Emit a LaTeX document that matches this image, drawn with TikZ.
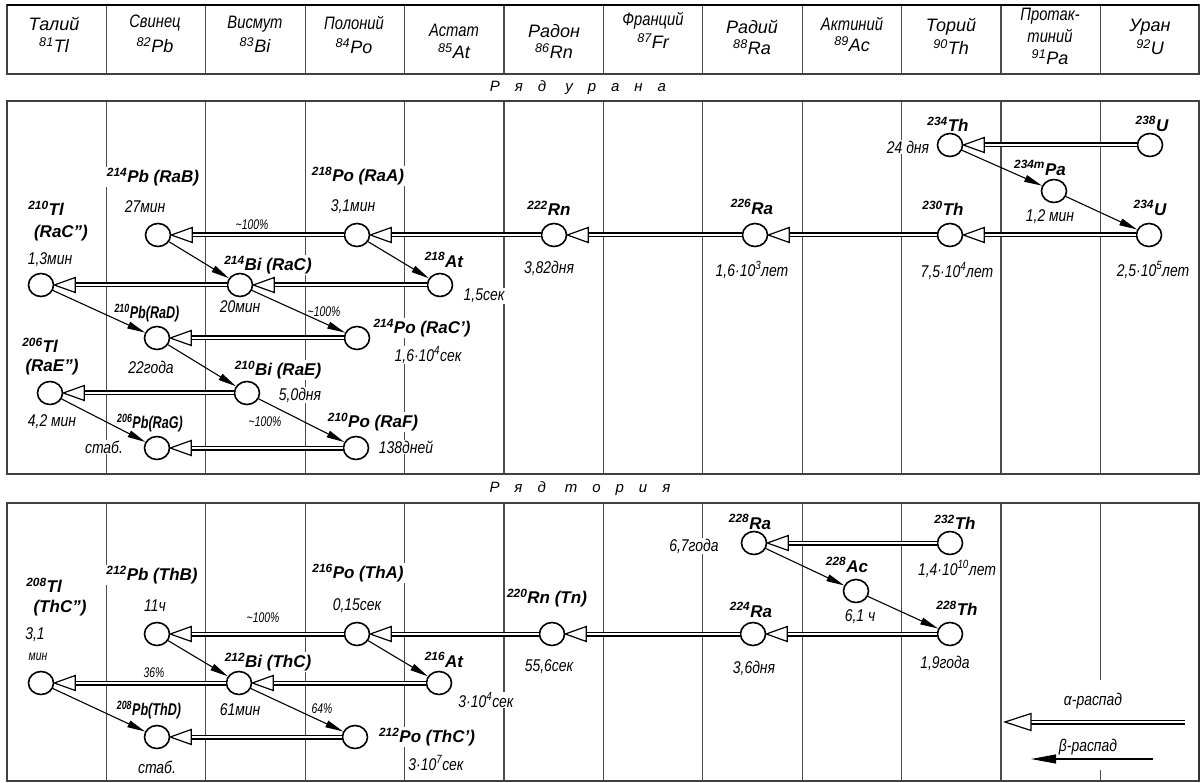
\documentclass[tikz,border=0pt]{standalone}
\usepackage{fontspec}
\setmainfont{Liberation Sans}
\newfontfamily\cnd[FakeStretch=0.82]{Liberation Sans}
\newfontfamily\cnn[FakeStretch=0.74]{Liberation Sans}
\usetikzlibrary{arrows.meta,shapes.geometric}
\tikzset{
 frm/.style={line width=1.8pt, draw=black!75},
 col/.style={line width=1.1pt, draw=black!70},
 hd/.style={font=\fontsize{18}{19}\selectfont\itshape, inner sep=0, align=center},
 hdc/.style={font=\cnd\fontsize{18}{19}\selectfont\itshape, inner sep=0, align=center},
 iso/.style={font=\fontsize{17}{18}\selectfont\bfseries\itshape, fill=white, inner sep=1pt},
 isoc/.style={font=\cnn\fontsize{17}{18}\selectfont\bfseries\itshape, fill=white, inner sep=1pt},
 hl/.style={font=\cnd\fontsize{17}{18}\selectfont\itshape, fill=white, inner sep=1pt},
 pct/.style={font=\cnn\fontsize{14}{15}\selectfont\itshape, inner sep=0.5pt},
 nuc/.style={ellipse, draw, line width=1.6pt, fill=white, minimum width=25pt, minimum height=23pt, inner sep=0},
 ashaft/.style={line width=1.2pt, double=white, double distance=2.6pt},
 ahead/.style={line width=1.2pt, fill=white, line join=miter},
 bshaft/.style={line width=1.1pt, -{Triangle[length=18pt,width=7pt]}},
 ser/.style={font=\addfontfeature{LetterSpace=100}\fontsize{15}{16}\selectfont\itshape, inner sep=0}
}
\newcommand{\adec}[2]{%
 \draw[ashaft] (#1.west) -- ([xshift=21pt]#2.east);
 \draw[ahead] (#2.east) -- ([xshift=21pt,yshift=7.5pt]#2.east) -- ([xshift=21pt,yshift=-7.5pt]#2.east) -- cycle;}
\begin{document}
\begin{tikzpicture}[x=1pt,y=-1pt]
\useasboundingbox (0,0) rectangle (1202,783);
% ---------- header ----------
\foreach \i in {1,...,11} \draw[col] ({7+99.4*\i},5) -- ({7+99.4*\i},74);
\draw[frm] (7,5) rectangle (1199,74);
\draw[line width=2.6pt] (7,5) -- (1199,5);
\node[hd]  (h1)  at (54,24)  {Талий};   \node[hd] (s1) at (54,45) {\textsuperscript{81}Tl};
\node[hdc] (h2)  at (155,23) {Свинец};  \node[hd] (s2) at (155,45) {\textsuperscript{82}Pb};
\node[hdc] (h3)  at (255,24) {Висмут};  \node[hd] (s3) at (255,45) {\textsuperscript{83}Bi};
\node[hdc] (h4)  at (354,23) {Полоний}; \node[hd] (s4) at (354,46) {\textsuperscript{84}Po};
\node[hdc] (h5)  at (454,30) {Астат};   \node[hd] (s5) at (454,51) {\textsuperscript{85}At};
\node[hd]  (h6)  at (554,31) {Радон};   \node[hd] (s6) at (554,51) {\textsuperscript{86}Rn};
\node[hdc] (h7)  at (653,21) {Франций}; \node[hd] (s7) at (653,41) {\textsuperscript{87}Fr};
\node[hd]  (h8)  at (752,27) {Радий};   \node[hd] (s8) at (752,47) {\textsuperscript{88}Ra};
\node[hdc] (h9)  at (852,24) {Актиний}; \node[hd] (s9) at (852,44) {\textsuperscript{89}Ac};
\node[hd]  (h10) at (951,27) {Торий};   \node[hd] (s10) at (951,47) {\textsuperscript{90}Th};
\node[hdc] (h11) at (1050,16) {Протак-}; \node[hdc] (h11b) at (1050,36) {тиний};
\node[hd]  (s11) at (1050,57) {\textsuperscript{91}Pa};
\node[hd]  (h12) at (1150,27) {Уран};   \node[hd] (s12) at (1150,47) {\textsuperscript{92}U};
\node[ser] (t1) at (578,88) {Ряд урана};
\node[ser] (t2) at (580,489) {Ряд тория};
% ---------- section frames and columns ----------
\foreach \i in {1,...,11} \draw[col] ({7+99.4*\i},101) -- ({7+99.4*\i},474);
\foreach \i in {1,...,10} \draw[col] ({7+99.4*\i},503) -- ({7+99.4*\i},781);
\draw[col] (1100.4,503) -- (1100.4,680);
\draw[col] (1100.4,770) -- (1100.4,781);
\draw[frm] (7,101) rectangle (1199,474);
\draw[frm] (7,503) rectangle (1199,781);
\draw[line width=2.6pt, draw=black!80] (1199,503) -- (1199,781);
% ---------- uranium series labels ----------
\node[iso] (l1) at (1152,124) {\textsuperscript{238}U};
\node[iso] (l2) at (948,124) {\textsuperscript{234}Th};
\node[hl]  (l3) at (908,147) {24 дня};
\node[iso] (l4) at (1040,168) {\textsuperscript{234m}Pa};
\node[hl]  (l5) at (1050,217) {1,2 мин};
\node[iso] (l6) at (1150,208) {\textsuperscript{234}U};
\node[hl]  (l7) at (1153,270) {2,5·10\textsuperscript{5}лет};
\node[iso] (l8) at (943,208) {\textsuperscript{230}Th};
\node[hl]  (l9) at (957,271) {7,5·10\textsuperscript{4}лет};
\node[iso] (l10) at (752,207) {\textsuperscript{226}Ra};
\node[hl]  (l11) at (752,270) {1,6·10\textsuperscript{3}лет};
\node[iso] (l12) at (549,208) {\textsuperscript{222}Rn};
\node[hl]  (l13) at (549,268) {3,82дня};
\node[iso] (l14) at (358,176) {\textsuperscript{218}Po (RaA)};
\node[hl]  (l15) at (353,207) {3,1мин};
\node[iso] (l16) at (153,177) {\textsuperscript{214}Pb (RaB)};
\node[hl]  (l17) at (145,207) {27мин};
\node[pct] (l18) at (252,225) {\textasciitilde100\%};
\node[iso] (l19) at (46,208) {\textsuperscript{210}Tl};
\node[iso] (l20) at (61,233) {(RaC'')};
\node[hl]  (l21) at (50,260) {1,3мин};
\node[iso] (l22) at (268,265) {\textsuperscript{214}Bi (RaC)};
\node[iso] (l23) at (444,260) {\textsuperscript{218}At};
\node[hl]  (l24) at (484,296) {1,5сек};
\node[hl]  (l25) at (240,307) {20мин};
\node[pct] (l26) at (324,312) {\textasciitilde100\%};
\node[isoc] (l27) at (147,313) {\textsuperscript{210}Pb(RaD)};
\node[iso] (l28) at (422,328) {\textsuperscript{214}Po (RaC')};
\node[hl]  (l29) at (428,355) {1,6·10\textsuperscript{4}сек};
\node[iso] (l30) at (40,345) {\textsuperscript{206}Tl};
\node[iso] (l31) at (52,367) {(RaE'')};
\node[hl]  (l32) at (151,367) {22года};
\node[iso] (l33) at (278,370) {\textsuperscript{210}Bi (RaE)};
\node[hl]  (l34) at (300,395) {5,0дня};
\node[hl]  (l35) at (52,422) {4,2 мин};
\node[pct] (l36) at (265,422) {\textasciitilde100\%};
\node[isoc] (l37) at (150,423) {\textsuperscript{206}Pb(RaG)};
\node[iso] (l38) at (373,422) {\textsuperscript{210}Po (RaF)};
\node[hl]  (l39) at (104,447) {стаб.};
\node[hl]  (l40) at (406,447) {138дней};
% ---------- thorium series labels ----------
\node[iso] (m1) at (955,522) {\textsuperscript{232}Th};
\node[hl]  (m2) at (957,569) {1,4·10\textsuperscript{10}лет};
\node[iso] (m3) at (750,522) {\textsuperscript{228}Ra};
\node[hl]  (m4) at (694,546) {6,7года};
\node[iso] (m5) at (847,565) {\textsuperscript{228}Ac};
\node[hl]  (m6) at (860,617) {6,1 ч};
\node[iso] (m7) at (957,608) {\textsuperscript{228}Th};
\node[hl]  (m8) at (945,663) {1,9года};
\node[iso] (m9) at (751,610) {\textsuperscript{224}Ra};
\node[hl]  (m10) at (754,668) {3,6дня};
\node[iso] (m11) at (547,598) {\textsuperscript{220}Rn (Tn)};
\node[hl]  (m12) at (549,667) {55,6сек};
\node[iso] (m13) at (358,573) {\textsuperscript{216}Po (ThA)};
\node[hl]  (m14) at (357,606) {0,15сек};
\node[iso] (m15) at (152,575) {\textsuperscript{212}Pb (ThB)};
\node[hl]  (m16) at (155,606) {11ч};
\node[pct] (m17) at (263,618) {\textasciitilde100\%};
\node[iso] (m18) at (44,585) {\textsuperscript{208}Tl};
\node[iso] (m19) at (60,608) {(ThC'')};
\node[hl]  (m20) at (35,635) {3,1};
\node[pct] (m21) at (38,657) {мин};
\node[iso] (m22) at (268,662) {\textsuperscript{212}Bi (ThC)};
\node[iso] (m23) at (444,660) {\textsuperscript{216}At};
\node[pct] (m24) at (154,673) {36\%};
\node[hl]  (m25) at (486,700) {3·10\textsuperscript{4}сек};
\node[isoc] (m26) at (149,710) {\textsuperscript{208}Pb(ThD)};
\node[hl]  (m27) at (240,710) {61мин};
\node[pct] (m28) at (322,709) {64\%};
\node[iso] (m29) at (427,737) {\textsuperscript{212}Po (ThC')};
\node[hl]  (m30) at (157,767) {стаб.};
\node[hl]  (m31) at (436,763) {3·10\textsuperscript{7}сек};
\node[hl]  (lg1) at (1093,701) {α-распад};
\node[hl]  (lg2) at (1088,747) {β-распад};
% ---------- nuclides ----------
\node[nuc] (U238)  at (1150,145) {};
\node[nuc] (Th234) at (950,145) {};
\node[nuc] (Pa234) at (1054,191) {};
\node[nuc] (U234)  at (1149,235) {};
\node[nuc] (Th230) at (950,235) {};
\node[nuc] (Ra226) at (755,235) {};
\node[nuc] (Rn222) at (554,235) {};
\node[nuc] (Po218) at (357,235) {};
\node[nuc] (Pb214) at (158,235) {};
\node[nuc] (At218) at (440,285) {};
\node[nuc] (Bi214) at (240,285) {};
\node[nuc] (Tl210) at (41,285) {};
\node[nuc] (Pb210) at (157,338) {};
\node[nuc] (Po214) at (357,338) {};
\node[nuc] (Bi210) at (247,393) {};
\node[nuc] (Tl206) at (50,393) {};
\node[nuc] (Pb206) at (157,448) {};
\node[nuc] (Po210) at (356,448) {};
\node[nuc] (Th232) at (950,543) {};
\node[nuc] (Ra228) at (754,543) {};
\node[nuc] (Ac228) at (856,591) {};
\node[nuc] (Th228) at (950,634) {};
\node[nuc] (Ra224) at (753,634) {};
\node[nuc] (Rn220) at (552,634) {};
\node[nuc] (Po216) at (357,634) {};
\node[nuc] (Pb212) at (157,634) {};
\node[nuc] (At216) at (439,683) {};
\node[nuc] (Bi212) at (239,683) {};
\node[nuc] (Tl208) at (41,683) {};
\node[nuc] (Pb208) at (157,737) {};
\node[nuc] (Po212) at (355,737) {};
% ---------- alpha decays ----------
\adec{U238}{Th234}
\adec{U234}{Th230}
\adec{Th230}{Ra226}
\adec{Ra226}{Rn222}
\adec{Rn222}{Po218}
\adec{Po218}{Pb214}
\adec{At218}{Bi214}
\adec{Bi214}{Tl210}
\adec{Po214}{Pb210}
\adec{Bi210}{Tl206}
\adec{Po210}{Pb206}
\adec{Th232}{Ra228}
\adec{Th228}{Ra224}
\adec{Ra224}{Rn220}
\adec{Rn220}{Po216}
\adec{Po216}{Pb212}
\adec{At216}{Bi212}
\adec{Bi212}{Tl208}
\adec{Po212}{Pb208}
% ---------- beta decays ----------
\draw[bshaft] (Th234) -- (Pa234);
\draw[bshaft] (Pa234) -- (U234);
\draw[bshaft] (Pb214) -- (Bi214);
\draw[bshaft] (Po218) -- (At218);
\draw[bshaft] (Tl210) -- (Pb210);
\draw[bshaft] (Bi214) -- (Po214);
\draw[bshaft] (Pb210) -- (Bi210);
\draw[bshaft] (Tl206) -- (Pb206);
\draw[bshaft] (Bi210) -- (Po210);
\draw[bshaft] (Ra228) -- (Ac228);
\draw[bshaft] (Ac228) -- (Th228);
\draw[bshaft] (Pb212) -- (Bi212);
\draw[bshaft] (Po216) -- (At216);
\draw[bshaft] (Tl208) -- (Pb208);
\draw[bshaft] (Bi212) -- (Po212);
% ---------- legend ----------
\coordinate (aS) at (1185,722);
\coordinate (aE) at (1005,722);
\draw[ashaft] (aS) -- ([xshift=26pt]aE);
\draw[ahead] (aE) -- ([xshift=26pt,yshift=8.5pt]aE) -- ([xshift=26pt,yshift=-8.5pt]aE) -- cycle;
\coordinate (bS) at (1153,759);
\coordinate (bE) at (1031,759);
\draw[line width=1.1pt, -{Triangle[length=25pt,width=9pt]}] (bS) -- (bE);
\end{tikzpicture}
\end{document}
